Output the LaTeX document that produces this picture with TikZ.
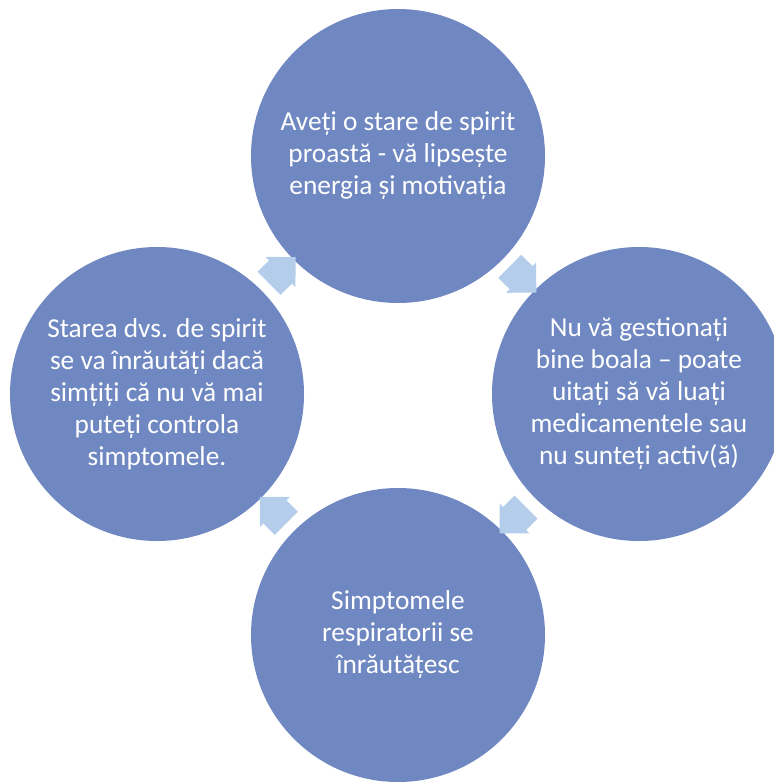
\documentclass[tikz,border=0pt]{standalone}
\usepackage{fontspec}
\setmainfont{Carlito}
\usepackage{tikz}
\usetikzlibrary{shapes.arrows}
\definecolor{cyclefill}{HTML}{7088C2}
\definecolor{cyclearrow}{HTML}{B4CDEA}

\begin{document}
\begin{tikzpicture}[x=0.75pt, y=-0.75pt,
  cyclenode/.style={circle, fill=cyclefill, text=white, minimum size=220.5pt,
      inner sep=0pt, align=center, font=\fontsize{20.5}{24}\selectfont},
  cyclearrowhead/.style={single arrow, fill=cyclearrow, draw=none,
      inner xsep=0pt, inner ysep=12pt, minimum height=28pt,
      single arrow head extend=3.75pt, sloped, allow upside down}]
\useasboundingbox (0,0) rectangle (774,782);
\node[cyclenode] (mood) at (398,156)
      {Aveți o stare de spirit\\proastă - vă lipsește\\energia și motivația};
\node[cyclenode] (manage) at (639,394)
      {Nu vă gestionați\\bine boala – poate\\uitați să vă luați\\medicamentele sau\\nu sunteți activ(ă)};
\node[cyclenode] (symptoms) at (398,635)
      {Simptomele\\respiratorii se\\înrăutățesc};
\node[cyclenode] (worse) at (157,394)
      {Starea dvs. de spirit\\se va înrăutăți dacă\\simțiți că nu vă mai\\puteți controla\\simptomele.};
\path (mood) -- (manage) node[cyclearrowhead, pos=0.46] (a1) {};
\path (manage) -- (symptoms) node[cyclearrowhead, pos=0.5] (a2) {};
\path (symptoms) -- (worse) node[cyclearrowhead, pos=0.46] (a3) {};
\path (worse) -- (mood) node[cyclearrowhead, pos=0.47] (a4) {};
\end{tikzpicture}
\end{document}
